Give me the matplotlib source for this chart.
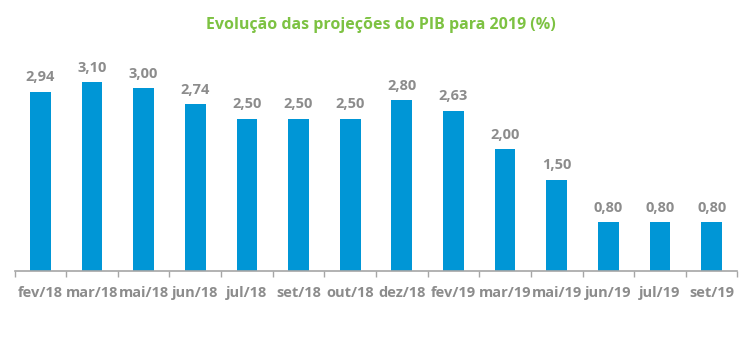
import numpy as np
import matplotlib.pyplot as plt

meses = ["fev/18", "mar/18", "mai/18", "jun/18", "jul/18", "set/18", "out/18",
         "dez/18", "fev/19", "mar/19", "mai/19", "jun/19", "jul/19", "set/19"]
pib = [2.94, 3.10, 3.00, 2.74, 2.50, 2.50, 2.50, 2.80, 2.63, 2.00, 1.50, 0.80, 0.80, 0.80]

azul = '#0096D6'
cinza = '#8C8C8C'
verde = '#7DC242'

fig = plt.figure(figsize=(7.51, 3.57), dpi=100)
ax = fig.add_axes([14.5/751, 86/357, (737.5-14.5)/751, 231/357])

x = np.arange(len(meses))
ax.bar(x, pib, width=0.4, color=azul)

ax.set_xlim(-0.5, len(meses) - 0.5)
ax.set_ylim(0, 231/61.)

for xi, v in zip(x, pib):
    ax.text(xi, v + 0.12, ("%.2f" % v).replace('.', ','), ha='center', va='bottom',
            fontsize=10.5, fontweight='bold', color=cinza, family='Open Sans')

for s in ['top', 'right', 'left']:
    ax.spines[s].set_visible(False)
ax.spines['bottom'].set_color('#A6A6A6')
ax.spines['bottom'].set_linewidth(1.2)
ax.set_yticks([])

ax.set_xticks(x)
ax.set_xticklabels(meses, fontsize=10.5, fontweight='bold', color=cinza, family='Open Sans')
ax.set_xticks(np.arange(len(meses) + 1) - 0.5, minor=True)
ax.tick_params(axis='x', which='major', length=0, pad=11)
ax.tick_params(axis='x', which='minor', length=4, color='#A6A6A6', width=1)

fig.text(381/751, 1 - 25/357, "Evolução das projeções do PIB para 2019 (%)", ha='center', va='center',
         fontsize=11.5, fontweight='bold', color=verde, family='Open Sans')

plt.savefig("out.png", dpi=100)
